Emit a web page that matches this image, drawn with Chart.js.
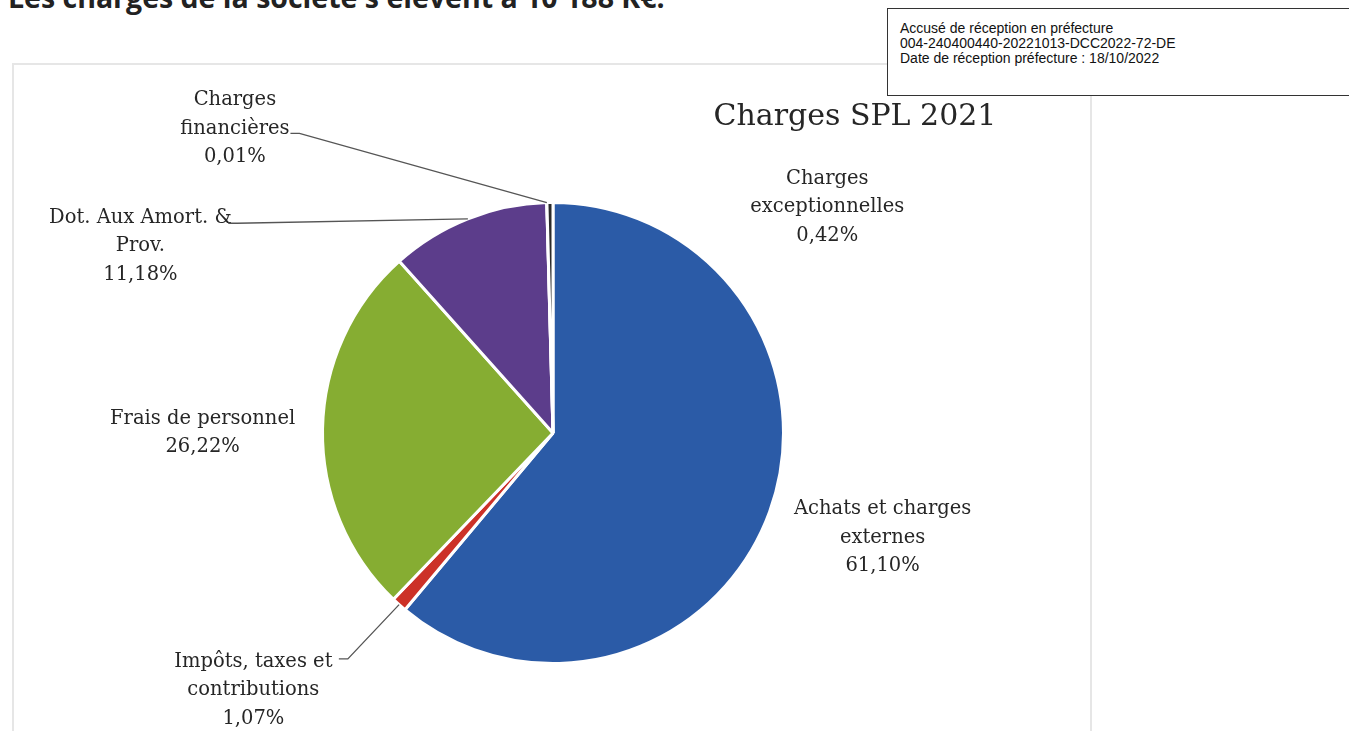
<!DOCTYPE html>
<html>
<head>
<meta charset="utf-8">
<script src="https://cdn.jsdelivr.net/npm/chart.js@4.4.0/dist/chart.umd.min.js"></script>
<style>
  body { margin: 0; background: #fff; width: 1349px; height: 731px; overflow: hidden; position: relative; }
  #heading { position: absolute; left: 8px; top: -22px; font: bold 28.5px "Open Sans", sans-serif; color: #222; white-space: nowrap; }
  #stamp { position: absolute; left: 887px; top: 8px; width: 480px; height: 88px; border: 1px solid #333; box-sizing: border-box; background: #fff;
           font: 14px "Liberation Sans", Arial, sans-serif; color: #111; line-height: 15px; padding: 12px 0 0 12px; z-index: 2; }
  #frame { position: absolute; left: 12px; top: 63px; width: 1080px; height: 700px; border: 2px solid #e6e6e6; box-sizing: border-box; }
  canvas { position: absolute; left: 0; top: 0; }
</style>
</head>
<body>
<div id="heading">Les charges de la société s'élèvent à 10 188 K€.</div>
<div id="frame"></div>
<div id="stamp">Accusé de réception en préfecture<br>004-240400440-20221013-DCC2022-72-DE<br>Date de réception préfecture : 18/10/2022</div>
<canvas id="myChart" width="1349" height="731"></canvas>
<script>
// Data
var categories = ["Achats et charges externes", "Impôts, taxes et contributions", "Frais de personnel",
                  "Dot. Aux Amort. & Prov.", "Charges financières", "Charges exceptionnelles"];
var shares = [61.10, 1.07, 26.22, 11.18, 0.01, 0.42];
var shareText = ["61,10%", "1,07%", "26,22%", "11,18%", "0,01%", "0,42%"];
var labelLines = [
  ["Achats et charges", "externes"],
  ["Impôts, taxes et", "contributions"],
  ["Frais de personnel"],
  ["Dot. Aux Amort. &", "Prov."],
  ["Charges", "financières"],
  ["Charges", "exceptionnelles"]
];
var colors = ["#2b5ba7", "#cc3128", "#86ad32", "#5c3d8b", "#3aa0b8", "#2a2a2a"];

// label layout: centre of label block in units of radius from pie centre, and leader line start (or null)
var labelPos = [[1.43, 0.455], [-1.30, 1.115], [-1.52, 0.0], [-1.79, -0.81], [-1.38, -1.32], [1.19, -0.98]];
var leaderFrom = [null, [-0.89, 0.98], null, [-1.37, -0.91], [-1.10, -1.30], null];

var labelPlugin = {
  id: "pieLabels",
  afterDraw: function (chart) {
    var ctx = chart.ctx;
    var arcs = chart.getDatasetMeta(0).data;
    var cx = arcs[0].x, cy = arcs[0].y, r = arcs[0].outerRadius;
    ctx.save();
    // title
    ctx.fillStyle = "#262626";
    ctx.font = "30px 'DejaVu Serif', serif";
    ctx.textAlign = "center";
    ctx.textBaseline = "middle";
    ctx.fillText("Charges SPL 2021", cx + 1.31 * r, cy - 1.37 * r);

    ctx.font = "19.5px 'DejaVu Serif', serif";
    var lh = 28.5;
    for (var i = 0; i < arcs.length; i++) {
      var a = arcs[i];
      var lines = labelLines[i].concat([shareText[i]]);
      var lx = cx + labelPos[i][0] * r, ly = cy + labelPos[i][1] * r;
      var top = ly - (lines.length - 1) * lh / 2;
      for (var k = 0; k < lines.length; k++) {
        ctx.fillText(lines[k], lx, top + k * lh);
      }
      if (leaderFrom[i]) {
        var mid = (a.startAngle + a.endAngle) / 2;
        var ex = cx + Math.cos(mid) * r, ey = cy + Math.sin(mid) * r;
        var sx = cx + leaderFrom[i][0] * r, sy = cy + leaderFrom[i][1] * r;
        ctx.strokeStyle = "#555";
        ctx.lineWidth = 1.3;
        ctx.beginPath();
        ctx.moveTo(sx - 9, sy);
        ctx.lineTo(sx, sy);
        ctx.lineTo(ex, ey);
        ctx.stroke();
      }
    }
    ctx.restore();
  }
};

var ctx = document.getElementById("myChart").getContext("2d");
var chart = new Chart(ctx, {
  type: "pie",
  data: {
    labels: categories,
    datasets: [{
      data: shares,
      backgroundColor: colors,
      borderColor: "#ffffff",
      borderWidth: 3
    }]
  },
  options: {
    responsive: false,
    animation: false,
    layout: { padding: { left: 321, right: 564, top: 201, bottom: 66 } },
    plugins: { legend: { display: false }, title: { display: false }, tooltip: { enabled: false } }
  },
  plugins: [labelPlugin]
});
</script>
</body>
</html>
